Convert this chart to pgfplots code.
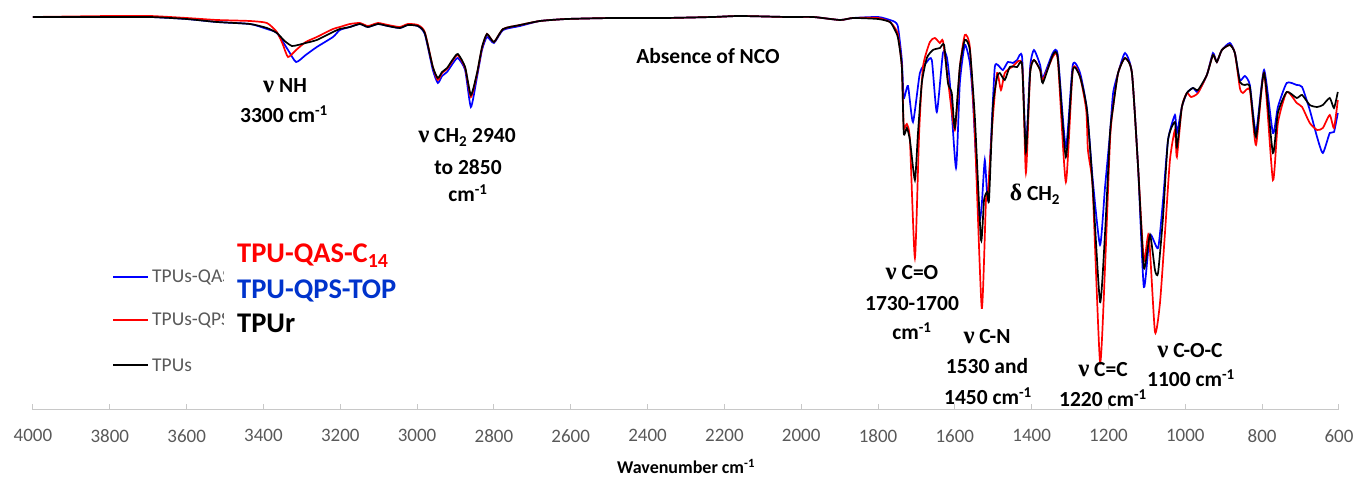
\documentclass[border=0pt]{standalone}
\usepackage{fontspec}
\setmainfont{Carlito}
\newfontfamily\grk{Liberation Serif}
\usepackage{pgfplots}
\pgfplotsset{compat=1.18}
\definecolor{tpured}{RGB}{255,0,0}
\definecolor{tpublue}{RGB}{0,0,255}
\definecolor{lblblue}{RGB}{0,51,204}
\definecolor{axgray}{RGB}{200,200,200}
\definecolor{txtgray}{RGB}{89,89,89}
\newcommand{\gnu}{{\grk\scalebox{1.15}{ν}}}
\newcommand{\gdelta}{{\grk\scalebox{1.1}{δ}}}
\newcommand{\invcm}{cm\textsuperscript{-1}}

\begin{document}
\begin{tikzpicture}[x=1pt,y=1pt]
\useasboundingbox (0,0) rectangle (1357,486);
\begin{axis}[
  at={(33pt,76pt)}, anchor=south west, scale only axis,
  width=1306pt, height=405pt,
  x dir=reverse, xmin=600, xmax=4000, ymin=0, ymax=405,
  axis x line=bottom, axis y line=none,
  x axis line style={-, axgray, line width=1pt},
  xtick={600,800,...,4000}, ytick=\empty,
  tick align=inside, major tick length=6pt,
  xtick style={axgray, line width=1pt},
  xticklabel style={font=\fontsize{19}{20}\selectfont, text=txtgray, yshift=-16pt},
  /pgf/number format/assume math mode=true,
  /pgf/number format/set thousands separator={},
  clip=false,
  every axis plot/.append style={line width=1.7pt, smooth, tension=0.35},
]
% TPUs-QAS
\addplot[tpublue] coordinates {
(4000,393)(3800,393)(3695,393)(3600,391)(3521,388)(3435,386)(3391,381)(3365,377)(3336,360)(3315,348)(3290,355)(3261,363)(3219,373)(3201,380)(3175,383)(3149,386)(3128,383)(3102,386)(3076,384)(3045,382)(3024,385)(2998,384)(2980,376)(2959,340)(2946,327)(2935,334)(2922,338)(2908,346)(2894,352)(2875,340)(2860,303)(2844,333)(2831,360)(2818,373)(2800,367)(2776,380)(2732,384)(2680,389)(2610,391)(2490,392)(2355,392)(2230,393)(2160,394)(2037,393)(1969,393)(1899,390)(1865,392)(1800,393)(1769,390)(1756,388)(1748,383)(1738,350)(1733,312)(1722,324)(1709,288)(1691,337)(1673,348)(1660,350)(1647,298)(1631,357)(1621,353)(1613,327)(1597,242)(1587,327)(1574,365)(1561,347)(1553,310)(1537,193)(1530,205)(1522,250)(1514,210)(1503,293)(1496,343)(1488,345)(1475,340)(1462,348)(1449,347)(1438,350)(1425,353)(1415,262)(1404,343)(1394,360)(1378,345)(1371,332)(1345,357)(1332,355)(1311,263)(1293,345)(1274,337)(1256,300)(1241,230)(1222,165)(1209,223)(1196,277)(1188,317)(1175,337)(1157,357)(1139,337)(1123,243)(1108,123)(1092,175)(1071,162)(1058,210)(1045,270)(1027,295)(1022,277)(1009,303)(996,317)(980,322)(967,318)(944,335)(928,357)(918,348)(905,360)(884,367)(871,357)(858,330)(845,334)(832,325)(816,278)(795,340)(772,277)(759,303)(736,327)(710,325)(696,323)(676,300)(657,273)(642,257)(624,277)(613,278)(603,297)
};
% TPUs-QPS
\addplot[tpured] coordinates {
(4000,393)(3800,394)(3695,394)(3600,392)(3521,390)(3435,389)(3391,387)(3365,378)(3350,366)(3336,353)(3315,360)(3290,368)(3261,373)(3219,381)(3201,383)(3175,386)(3149,387)(3128,384)(3102,387)(3076,385)(3045,383)(3024,386)(2998,385)(2980,378)(2959,343)(2946,330)(2935,337)(2922,341)(2908,349)(2894,355)(2875,342)(2860,313)(2844,336)(2831,362)(2818,376)(2800,368)(2776,381)(2732,385)(2680,389)(2610,391)(2490,392)(2355,392)(2230,393)(2160,394)(2037,393)(1969,393)(1899,390)(1865,392)(1800,392)(1769,388)(1756,382)(1748,375)(1738,343)(1733,283)(1725,286)(1717,270)(1704,152)(1693,277)(1683,343)(1665,368)(1652,372)(1639,367)(1631,369)(1618,330)(1600,280)(1587,343)(1574,375)(1561,363)(1548,277)(1530,102)(1519,210)(1514,217)(1501,293)(1490,337)(1480,320)(1470,337)(1451,343)(1425,345)(1415,237)(1404,337)(1394,350)(1378,340)(1371,330)(1345,353)(1332,350)(1311,228)(1293,340)(1274,333)(1258,300)(1254,262)(1250,250)(1241,220)(1222,48)(1209,143)(1196,270)(1188,303)(1175,337)(1157,352)(1139,337)(1123,243)(1108,150)(1095,175)(1079,78)(1066,107)(1053,177)(1040,250)(1027,280)(1022,253)(1009,303)(996,317)(985,313)(967,317)(944,335)(928,355)(918,348)(905,360)(884,365)(871,357)(858,322)(850,317)(832,320)(816,265)(795,337)(772,230)(759,287)(736,318)(710,307)(696,303)(676,287)(657,280)(642,282)(624,295)(613,282)(603,310)
};
% TPUs
\addplot[black] coordinates {
(4000,393)(3800,393)(3695,393)(3600,391)(3521,388)(3435,386)(3391,382)(3365,377)(3345,369)(3326,364)(3310,365)(3290,367)(3261,370)(3219,378)(3201,381)(3175,383)(3149,386)(3128,383)(3102,386)(3076,384)(3045,382)(3024,385)(2998,384)(2980,377)(2959,343)(2946,332)(2935,338)(2922,342)(2908,350)(2894,356)(2875,343)(2860,315)(2844,337)(2831,363)(2818,376)(2800,368)(2776,381)(2732,385)(2680,389)(2610,391)(2490,392)(2355,392)(2230,393)(2160,394)(2037,393)(1969,393)(1899,390)(1865,392)(1800,391)(1769,388)(1756,380)(1748,372)(1738,343)(1733,277)(1725,282)(1717,270)(1704,230)(1696,277)(1686,327)(1673,352)(1657,360)(1639,362)(1628,365)(1618,327)(1608,317)(1600,282)(1587,343)(1574,370)(1561,360)(1548,293)(1532,170)(1524,210)(1516,218)(1511,210)(1501,303)(1490,333)(1483,337)(1470,330)(1457,343)(1438,343)(1425,345)(1415,258)(1404,337)(1394,350)(1378,340)(1371,327)(1345,355)(1332,352)(1311,253)(1293,340)(1274,333)(1256,300)(1241,223)(1222,108)(1209,177)(1196,277)(1188,303)(1175,337)(1157,352)(1139,337)(1123,243)(1108,142)(1092,175)(1079,140)(1071,137)(1058,193)(1045,270)(1027,288)(1022,263)(1009,303)(996,317)(980,322)(967,320)(944,335)(928,355)(918,348)(905,360)(884,365)(871,357)(858,328)(845,325)(832,323)(816,273)(795,337)(772,257)(759,297)(736,318)(710,312)(696,315)(676,305)(657,303)(642,305)(624,312)(613,302)(603,318)
};
\end{axis}

% axis title
\node[font=\bfseries\fontsize{18}{19}\selectfont, anchor=base] at (686,12) {Wavenumber \invcm};

% band assignments
\begin{scope}[every node/.style={font=\bfseries\fontsize{21.5}{23}\selectfont, anchor=base, inner sep=0pt}]
\node at (285,393) {\gnu{} NH};
\node at (284,363) {3300 \invcm};
\node at (467,343) {\gnu{} CH\textsubscript{2} 2940};
\node at (468,311) {to 2850};
\node at (468,284) {\invcm};
\node at (708,422) {Absence of NCO};
\node at (1035,285) {\gdelta{} CH\textsubscript{2}};
\node at (912,206) {\gnu{} C=O};
\node at (912,175) {1730-1700};
\node at (912,146) {\invcm};
\node at (987,142) {\gnu{} C-N};
\node at (987,112) {1530 and};
\node at (988,81) {1450 \invcm};
\node at (1103,109) {\gnu{} C=C};
\node at (1103,79) {1220 \invcm};
\node at (1190,128) {\gnu{} C-O-C};
\node at (1191,99) {1100 \invcm};
\end{scope}

% sample names
\begin{scope}[every node/.style={font=\bfseries\fontsize{28.5}{30}\selectfont, anchor=base west, inner sep=0pt}]
\node[text=tpured] at (237,223) {TPU-QAS-C\textsubscript{14}};
\node[text=lblblue] at (237,187) {TPU-QPS-TOP};
\node at (237,153) {TPUr};
\end{scope}

% series key
\draw[tpublue, line width=1.5pt] (113,209) -- (148,209);
\draw[tpured, line width=1.5pt] (113,166) -- (148,166);
\draw[black, line width=1.5pt] (113,121) -- (148,121);
\begin{scope}
\clip (150,100) rectangle (223,230);
\begin{scope}[every node/.style={font=\fontsize{19.5}{21}\selectfont, text=txtgray, anchor=west, inner sep=0pt}]
\node at (152,209) {TPUs-QAS};
\node at (152,166) {TPUs-QPS};
\node at (152,121) {TPUs};
\end{scope}
\end{scope}
\end{tikzpicture}
\end{document}
